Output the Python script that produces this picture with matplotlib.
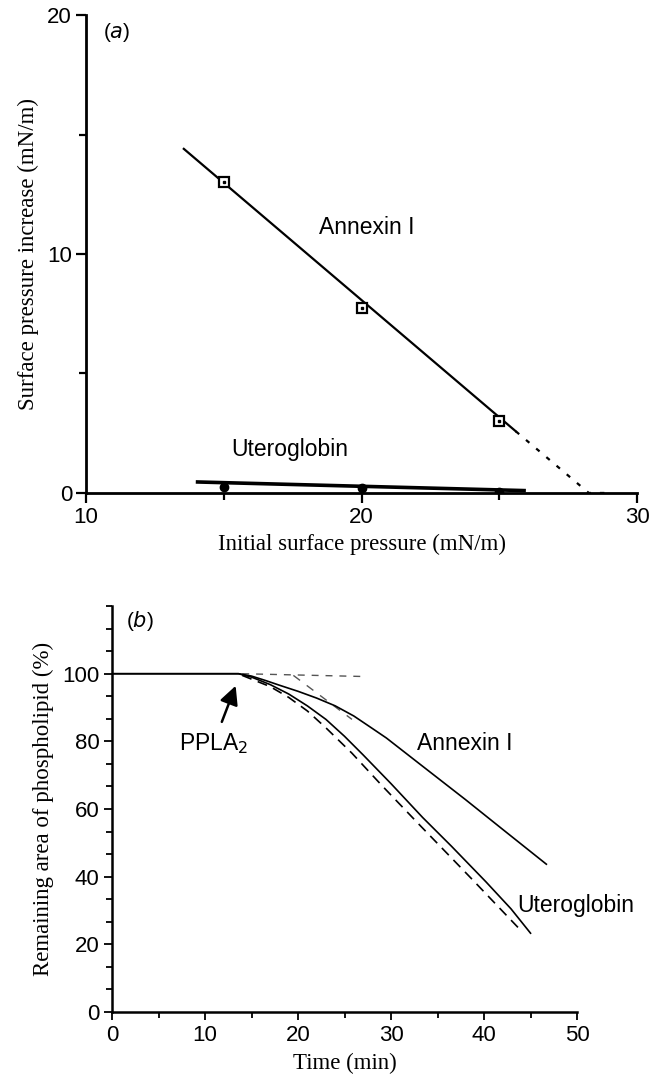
import matplotlib.pyplot as plt
from matplotlib.ticker import MultipleLocator

# panel (a): surface pressure increase vs initial pressure
pi0 = [15, 20, 25]
annexin_dpi = [13.0, 7.75, 3.0]
utero_dpi = [0.27, 0.2, 0.03]
annexin_fit_x = [13.55, 25.6]
annexin_fit_y = [14.4, 2.58]
annexin_extrap_x = [25.6, 28.25, 29.0]
annexin_extrap_y = [2.58, 0.0, 0.0]
utero_fit_x = [14.05, 25.9]
utero_fit_y = [0.46, 0.1]

# panel (b): remaining area of phospholipid vs time
annexin_t = [0, 13.6, 15, 16.5, 18, 20, 22, 24, 26, 28, 29.5, 33, 38, 42, 46.7]
annexin_area = [100, 100, 99.3, 98.0, 96.6, 94.8, 92.8, 90.5, 87.5, 83.8, 81.0, 73.5, 62.8, 54.0, 43.7]
utero_t = [0, 13.6, 15, 17, 19, 21, 23, 25, 27, 30, 33.4, 36.5, 40.2, 42.9, 45.0]
utero_area = [100, 100, 99.0, 96.8, 94.0, 90.5, 86.5, 81.5, 76.0, 67.5, 57.5, 49.0, 38.5, 30.5, 23.3]
utero_dash_t = [14.0, 17.0, 19.0, 21.0, 23.0, 25.8, 29.0, 33.0, 38.8, 44.0]
utero_dash_area = [99.5, 96.2, 93.0, 89.0, 84.0, 76.5, 67.0, 55.5, 39.0, 24.0]
base_dash_t = [14.0, 26.7]
base_dash_area = [100, 99.2]
annexin_dash_t = [19.5, 25.8]
annexin_dash_area = [99.5, 86.5]

sans = ['Liberation Sans', 'DejaVu Sans']
serif = ['Liberation Serif', 'DejaVu Serif']

fig = plt.figure(figsize=(6.57, 10.74), dpi=100)

# ---- (a)
ax1 = fig.add_axes([0.1309, 0.541, 0.8387, 0.445])
ax1.plot(annexin_fit_x, annexin_fit_y, color='black', lw=1.6)
ax1.plot(annexin_extrap_x, annexin_extrap_y, color='black', lw=1.6, ls=(0, (2, 4)))
ax1.plot(pi0, annexin_dpi, ls='none', marker='s', ms=7, mfc='white', mec='black', mew=1.6)
ax1.plot(pi0, annexin_dpi, ls='none', marker='s', ms=1.5, color='black')
ax1.plot(utero_fit_x, utero_fit_y, color='black', lw=2.6)
ax1.plot(pi0, utero_dpi, ls='none', marker='o', ms=6, color='black')

ax1.set_xlim(10, 30)
ax1.set_ylim(0, 20)
ax1.set_xticks([10, 20, 30])
ax1.set_yticks([0, 10, 20])
ax1.xaxis.set_minor_locator(MultipleLocator(5))
ax1.yaxis.set_minor_locator(MultipleLocator(5))
ax1.spines['top'].set_visible(False)
ax1.spines['right'].set_visible(False)
for s in ('left', 'bottom'):
    ax1.spines[s].set_linewidth(2.0)
ax1.tick_params(which='both', direction='out', width=1.6, length=7, labelsize=16, pad=3)
ax1.tick_params(which='minor', length=5)
for lab in ax1.get_xticklabels() + ax1.get_yticklabels():
    lab.set_family(sans)
ax1.set_xlabel('Initial surface pressure (mN/m)', family=serif, fontsize=16.5, labelpad=4)
ax1.set_ylabel('Surface pressure increase (mN/m)', family=serif, fontsize=16.5, labelpad=6)
ax1.text(11.1, 19.25, r'($\it{a}$)', family=sans, fontsize=15, ha='center', va='center')
ax1.text(20.2, 11.1, 'Annexin I', family=sans, fontsize=16.5, ha='center', va='center')
ax1.text(17.4, 1.83, 'Uteroglobin', family=sans, fontsize=16.5, ha='center', va='center')

# ---- (b)
ax2 = fig.add_axes([0.1705, 0.0577, 0.7078, 0.378])
ax2.plot(base_dash_t, base_dash_area, color='#555555', lw=1.0, ls=(0, (5, 5)))
ax2.plot(annexin_dash_t, annexin_dash_area, color='#555555', lw=1.0, ls=(0, (6, 6)))
ax2.plot(utero_dash_t, utero_dash_area, color='black', lw=1.2, ls=(0, (6, 4)))
ax2.plot(annexin_t, annexin_area, color='black', lw=1.2)
ax2.plot(utero_t, utero_area, color='black', lw=1.2)

ax2.set_xlim(0, 50)
ax2.set_ylim(0, 120)
ax2.set_xticks([0, 10, 20, 30, 40, 50])
ax2.set_yticks([0, 20, 40, 60, 80, 100])
ax2.xaxis.set_minor_locator(MultipleLocator(5))
ax2.yaxis.set_minor_locator(MultipleLocator(20 / 3))
ax2.spines['top'].set_visible(False)
ax2.spines['right'].set_visible(False)
for s in ('left', 'bottom'):
    ax2.spines[s].set_linewidth(1.8)
ax2.tick_params(which='both', direction='out', width=1.3, length=6, labelsize=16, pad=3)
ax2.tick_params(which='minor', length=4)
for lab in ax2.get_xticklabels() + ax2.get_yticklabels():
    lab.set_family(sans)
ax2.set_xlabel('Time (min)', family=serif, fontsize=16.5, labelpad=5)
ax2.set_ylabel('Remaining area of phospholipid (%)', family=serif, fontsize=16.5, labelpad=6)
ax2.text(3.0, 115.5, r'($\it{b}$)', family=sans, fontsize=15, ha='center', va='center')
ax2.annotate('', xy=(13.4, 97.2), xytext=(11.7, 85),
             arrowprops=dict(arrowstyle='-|>', color='black', lw=1.8, mutation_scale=28))
ax2.text(10.9, 79.5, r'PPLA$_2$', family=sans, fontsize=16.5, ha='center', va='center')
ax2.text(37.9, 79.5, 'Annexin I', family=sans, fontsize=16.5, ha='center', va='center')
ax2.text(49.9, 31.5, 'Uteroglobin', family=sans, fontsize=16.5, ha='center', va='center')

fig.savefig('out.png', dpi=100)
